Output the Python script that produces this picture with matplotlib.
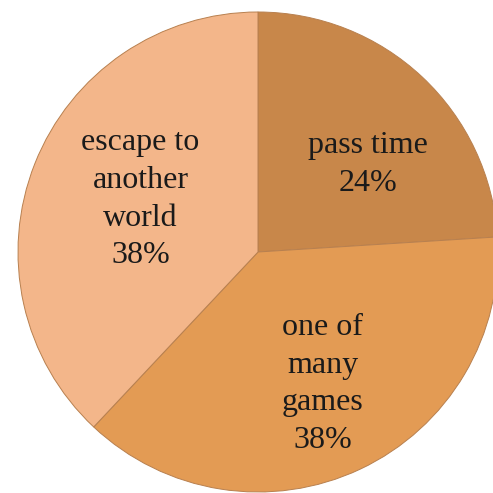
import matplotlib.pyplot as plt

labels = ['pass time', 'one of\nmany\ngames', 'escape to\nanother\nworld']
shares = [24, 38, 38]
colors = ['#C8874A', '#E39B54', '#F3B68A']

# label positions in pie units (radius = 1)
label_pos = [(0.46, 0.365), (0.27, -0.55), (-0.49, 0.22)]

fig = plt.figure(figsize=(4.93, 4.93), dpi=100)
ax = fig.add_axes([0, 0, 1, 1])

ax.pie(shares, colors=colors, startangle=90, counterclock=False,
       wedgeprops=dict(edgecolor='#B8804F', linewidth=0.7))

for lab, val, (x, y) in zip(labels, shares, label_pos):
    ax.text(x, y, f"{lab}\n{val}%", ha='center', va='center',
            fontsize=23, family='Liberation Serif', color='#1a1a1a',
            linespacing=1.4)

ax.set_xlim(-258 / 240, 235 / 240)
ax.set_ylim(-241 / 240, 252 / 240)
ax.set_aspect('auto')
ax.axis('off')

fig.savefig('out.png', dpi=100)
